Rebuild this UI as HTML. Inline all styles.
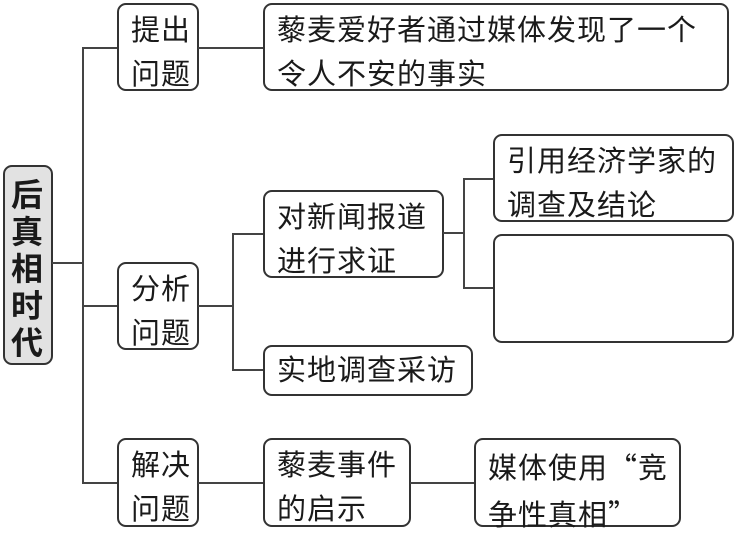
<!DOCTYPE html>
<html><head><meta charset="utf-8"><style>
body{margin:0;width:739px;height:532px;background:#fff;position:relative;overflow:hidden;font-family:"Liberation Sans","Noto Sans CJK SC",sans-serif;color:#1a1a1a}
.b{position:absolute;border:2px solid #333;border-radius:9px;box-sizing:border-box;font-size:29px;line-height:44px;padding:4px 0 0 12px;letter-spacing:1px}
.l{position:absolute;background:#444}
.q{font-family:"Noto Sans CJK SC",sans-serif}
</style></head><body>
<div class="b" style="left:3px;top:165px;width:50px;height:200px;background:#e2e2e2;font-weight:bold;font-size:32px;line-height:37px;padding:10px 0 0 6px">后<br>真<br>相<br>时<br>代</div>
<div class="l" style="left:52px;top:262px;width:31px;height:2px"></div>
<div class="l" style="left:82px;top:47px;width:2px;height:437px"></div>
<div class="l" style="left:82px;top:47px;width:35px;height:2px"></div>
<div class="l" style="left:82px;top:305px;width:35px;height:2px"></div>
<div class="l" style="left:82px;top:482px;width:35px;height:2px"></div>

<div class="b" style="left:117px;top:3px;width:82px;height:88px">提出<br>问题</div>
<div class="l" style="left:198px;top:47px;width:65px;height:2px"></div>
<div class="b" style="left:263px;top:3px;width:466px;height:88px">藜麦爱好者通过媒体发现了一个<br>令人不安的事实</div>

<div class="b" style="left:117px;top:262px;width:82px;height:88px">分析<br>问题</div>
<div class="l" style="left:198px;top:305px;width:35px;height:2px"></div>
<div class="l" style="left:232px;top:233px;width:2px;height:138px"></div>
<div class="l" style="left:232px;top:233px;width:31px;height:2px"></div>
<div class="l" style="left:232px;top:369px;width:31px;height:2px"></div>
<div class="b" style="left:263px;top:190px;width:181px;height:88px">对新闻报道<br>进行求证</div>
<div class="l" style="left:443px;top:232px;width:21px;height:2px"></div>
<div class="l" style="left:463px;top:178px;width:2px;height:111px"></div>
<div class="l" style="left:463px;top:178px;width:30px;height:2px"></div>
<div class="l" style="left:463px;top:287px;width:30px;height:2px"></div>
<div class="b" style="left:493px;top:134px;width:241px;height:88px">引用经济学家的<br>调查及结论</div>
<div class="b" style="left:493px;top:234px;width:241px;height:109px"></div>
<div class="b" style="left:263px;top:345px;width:210px;height:51px;padding-top:2px">实地调查采访</div>

<div class="b" style="left:117px;top:438px;width:82px;height:89px">解决<br>问题</div>
<div class="l" style="left:198px;top:482px;width:65px;height:2px"></div>
<div class="b" style="left:263px;top:438px;width:148px;height:89px">藜麦事件<br>的启示</div>
<div class="l" style="left:410px;top:482px;width:64px;height:2px"></div>
<div class="b" style="left:474px;top:438px;width:207px;height:89px">媒体使用<span class="q">“</span>竞<br>争性真相<span class="q">”</span></div>
</body></html>
